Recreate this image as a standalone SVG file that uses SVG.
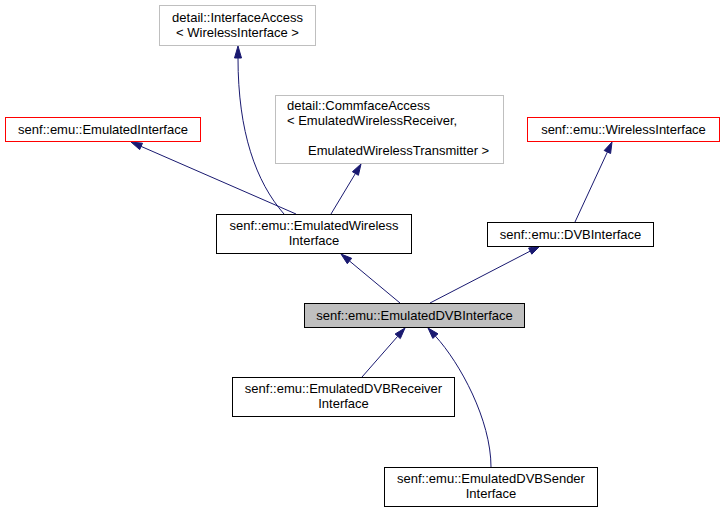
<svg xmlns="http://www.w3.org/2000/svg" width="723" height="513" viewBox="0 0 723 513">
<style>
text { font-family: "Liberation Sans", Arial, Helvetica, sans-serif; font-size: 13px; fill: #000; }
.c { text-anchor: middle; }
.box { fill: #fff; stroke: #000; stroke-width: 1; }
.gray { fill: #fff; stroke: #bfbfbf; stroke-width: 1; }
.red { fill: #fff; stroke: #ff0000; stroke-width: 1; }
.cur { fill: #bfbfbf; stroke: #000; stroke-width: 1; }
.edge { fill: none; stroke: #191970; stroke-width: 1; }
.head { fill: #191970; stroke: #191970; stroke-width: 1; }
</style>
<rect width="723" height="513" fill="#fff"/>
<g id="connectors">
  <path class="edge" d="M284,214 C256,182 238,132 238,58"/>
  <polygon class="head" points="238,46 241.5,58 234.5,58"/>
  <path class="edge" d="M331,214 L355.4,173.5"/>
  <polygon class="head" points="361,164 358.4,175.3 352.4,171.7"/>
  <path class="edge" d="M296,214 L141.1,146.4"/>
  <polygon class="head" points="131,142 142.5,143.2 139.7,149.6"/>
  <path class="edge" d="M575,222 L607.4,152"/>
  <polygon class="head" points="612,142 610.6,153.5 604.2,150.5"/>
  <path class="edge" d="M400,303 L349.5,261"/>
  <polygon class="head" points="341,254 351.7,258.3 347.3,263.7"/>
  <path class="edge" d="M430,303 L530.2,251.1"/>
  <polygon class="head" points="540,246 531.8,254.2 528.6,248"/>
  <path class="edge" d="M362,377 L397.7,336.3"/>
  <polygon class="head" points="405,328 400.3,338.6 395.1,334"/>
  <path class="edge" d="M491,467 C491,420 460,363 435.4,336.1"/>
  <polygon class="head" points="428,328 438,333.8 432.8,338.4"/>
</g>
<g id="node-interfaceaccess">
  <rect class="gray" x="159.5" y="5.5" width="156" height="40"/>
  <text class="c" x="237.5" y="22">detail::InterfaceAccess</text>
  <text class="c" x="237.5" y="37">&lt; WirelessInterface &gt;</text>
</g>
<g id="node-commfaceaccess">
  <rect class="gray" x="275.5" y="95.5" width="228" height="68"/>
  <text x="287" y="110">detail::CommfaceAccess</text>
  <text x="287" y="125">&lt; EmulatedWirelessReceiver,</text>
  <text x="308" y="155">EmulatedWirelessTransmitter &gt;</text>
</g>
<g id="node-emulatedinterface">
  <rect class="red" x="5.5" y="117.5" width="195" height="24"/>
  <text class="c" x="103" y="134">senf::emu::EmulatedInterface</text>
</g>
<g id="node-wirelessinterface">
  <rect class="red" x="527.5" y="117.5" width="192" height="24"/>
  <text class="c" x="623.5" y="134">senf::emu::WirelessInterface</text>
</g>
<g id="node-emulatedwirelessinterface">
  <rect class="box" x="216.5" y="214.5" width="195" height="39"/>
  <text class="c" x="314" y="230">senf::emu::EmulatedWireless</text>
  <text class="c" x="314" y="245">Interface</text>
</g>
<g id="node-dvbinterface">
  <rect class="box" x="487.5" y="222.5" width="166" height="24"/>
  <text class="c" x="570.5" y="239">senf::emu::DVBInterface</text>
</g>
<g id="node-emulateddvbinterface">
  <rect class="cur" x="304.5" y="303.5" width="220" height="24"/>
  <text class="c" x="414.5" y="320">senf::emu::EmulatedDVBInterface</text>
</g>
<g id="node-emulateddvbreceiverinterface">
  <rect class="box" x="232.5" y="377.5" width="222" height="39"/>
  <text class="c" x="343.5" y="393">senf::emu::EmulatedDVBReceiver</text>
  <text class="c" x="343.5" y="408">Interface</text>
</g>
<g id="node-emulateddvbsenderinterface">
  <rect class="box" x="384.5" y="467.5" width="213" height="39"/>
  <text class="c" x="491" y="483">senf::emu::EmulatedDVBSender</text>
  <text class="c" x="491" y="498">Interface</text>
</g>
</svg>
